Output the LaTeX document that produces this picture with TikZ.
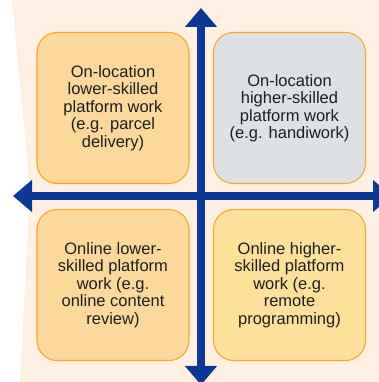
\documentclass[tikz,border=0pt]{standalone}
\usepackage{fontspec}
\setmainfont{Liberation Sans}
\usepackage{tikz}
\usetikzlibrary{positioning,arrows.meta}
\definecolor{cBg}{HTML}{FEF0E2}
\definecolor{cOr}{HTML}{FCD99B}
\definecolor{cYe}{HTML}{FDE09A}
\definecolor{cGr}{HTML}{DDE1E4}
\definecolor{cEdge}{HTML}{F6A830}
\definecolor{cAx}{HTML}{0B3894}
\definecolor{cTxt}{HTML}{1E1E1E}
\tikzset{
  quad/.style={draw=cEdge, line width=1.1pt, rounded corners=20pt, fill=cOr,
               minimum width=152pt, minimum height=151pt, align=center,
               text=cTxt, font=\fontsize{16.5}{17.5}\selectfont, inner sep=0pt},
  quadG/.style={quad, fill=cGr},
  quadY/.style={quad, fill=cYe},
  ax/.style={cAx, line width=8pt, -{Triangle[width=31pt,length=19pt]}}
}

\begin{document}
\begin{tikzpicture}[x=1pt,y=1pt]
\useasboundingbox (0,0) rectangle (379,382);
\clip (0,0) rectangle (379,382);
% background sheet
\fill[cBg] (12,382) -- (30,192) -- (20,0) -- (379,0) -- (379,382) -- cycle;
% quadrants
\node[quad] (onlow) at (113,274) {On-location\\lower-skilled\\platform work\\(e.g. parcel\\delivery)};
\node[quadG] (onhigh) at (289.5,274) {On-location\\higher-skilled\\platform work\\(e.g. handiwork)};
\node[quad] (olow) at (113,97) {Online lower-\\skilled platform\\work (e.g.\\online content\\review)};
\node[quadY] (ohigh) at (289.5,97) {Online higher-\\skilled platform\\work (e.g.\\remote\\programming)};
% axes
\coordinate (mid) at (201,186);
\coordinate (top) at (201,374);
\coordinate (bot) at (201,-3);
\coordinate (lft) at (13,186);
\coordinate (rgt) at (392,186);
\draw[ax] (mid) -- (top); \draw[ax] (mid) -- (bot);
\draw[ax] (mid) -- (lft); \draw[ax] (mid) -- (rgt);
\end{tikzpicture}
\end{document}
